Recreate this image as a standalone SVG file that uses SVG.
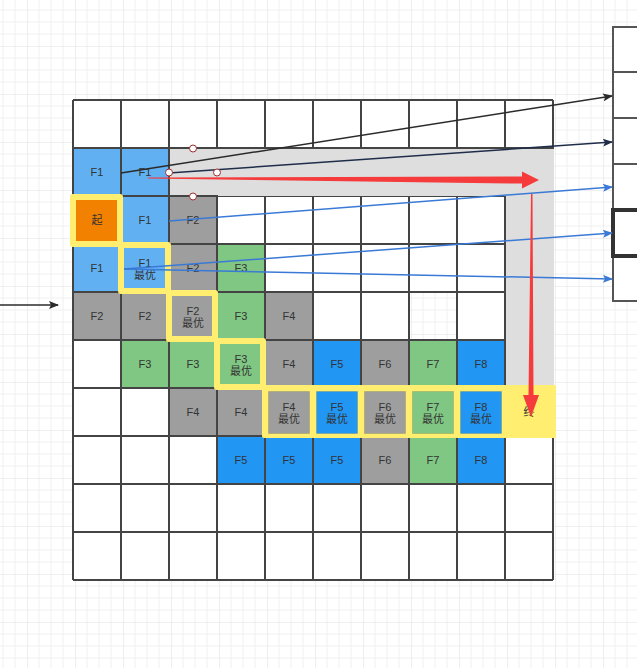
<svg xmlns="http://www.w3.org/2000/svg" width="637" height="668" viewBox="0 0 637 668">
<defs>
<pattern id="bg" x="27" y="46" width="48" height="48" patternUnits="userSpaceOnUse">
<path d="M12 0V48M24 0V48M36 0V48M0 12H48M0 24H48M0 36H48" stroke="#f0f0f0" stroke-width="1" fill="none"/>
<path d="M0 0V48M0 0H48" stroke="#e0e0e0" stroke-width="1" fill="none"/>
</pattern>
<marker id="ad" viewBox="0 0 10 8" refX="9" refY="4" markerWidth="11" markerHeight="8" markerUnits="userSpaceOnUse" orient="auto"><path d="M0 0L10 4L0 8L2 4Z" fill="#2b2b2b"/></marker>
<marker id="an" viewBox="0 0 10 8" refX="9" refY="4" markerWidth="11" markerHeight="8" markerUnits="userSpaceOnUse" orient="auto"><path d="M0 0L10 4L0 8L2 4Z" fill="#1f2d4a"/></marker>
<marker id="ab" viewBox="0 0 10 8" refX="9" refY="4" markerWidth="11" markerHeight="8" markerUnits="userSpaceOnUse" orient="auto"><path d="M0 0L10 4L0 8L2 4Z" fill="#3a7ad6"/></marker>
</defs>
<style>
.c{stroke:#444;stroke-width:2}
.lb{fill:#60b0f2}
.gy{fill:#9e9e9e}
.gr{fill:#80c783}
.bl{fill:#2196f3}
.or{fill:#f38100}
.hl{stroke:#ffee70;stroke-width:6;stroke-linejoin:round}
.in{stroke:rgba(0,0,0,0.12);stroke-width:1}
text{font-family:"Liberation Sans","Noto Sans CJK SC",sans-serif;font-size:11px;fill:#333;text-anchor:middle}
.cn{fill:none;stroke-width:1.5}
.hd{fill:#fff;stroke:#a0302f;stroke-width:1}
</style>
<rect width="637" height="668" fill="#fff"/>
<rect width="637" height="668" fill="url(#bg)"/>

<g id="table">
<path d="M73 100H553V580H73Z M409 292V340H457V292Z" fill="#fff" fill-rule="evenodd"/>
<path d="M73 100V580M121 100V580M169 100V580M217 100V580M265 100V580M313 100V580M361 100V580M409 100V580M457 100V580M505 100V580M553 100V580M73 100H553M73 148H553M73 196H553M73 244H553M73 292H553M73 340H553M73 388H553M73 436H553M73 484H553M73 532H553M73 580H553" stroke="#444" stroke-width="2" fill="none"/>
</g>

<g id="gray-band">
<rect x="170" y="149" width="384" height="47" fill="#dedede"/>
<rect x="506" y="149" width="48" height="239" fill="#dedede"/>
</g>

<g id="r1c0"><rect class="c lb" x="73" y="148" width="48" height="48"/><text x="97" y="176">F1</text></g>
<g id="r1c1"><rect class="c lb" x="121" y="148" width="48" height="48"/><text x="145" y="176">F1</text></g>
<g id="r2c1"><rect class="c lb" x="121" y="196" width="48" height="48"/><text x="145" y="224">F1</text></g>
<g id="r2c2"><rect class="c gy" x="169" y="196" width="48" height="48"/><text x="193" y="224">F2</text></g>
<g id="r3c0"><rect class="c lb" x="73" y="244" width="48" height="48"/><text x="97" y="272">F1</text></g>
<g id="r3c2"><rect class="c gy" x="169" y="244" width="48" height="48"/><text x="193" y="272">F2</text></g>
<g id="r3c3"><rect class="c gr" x="217" y="244" width="48" height="48"/><text x="241" y="272">F3</text></g>
<g id="r4c0"><rect class="c gy" x="73" y="292" width="48" height="48"/><text x="97" y="320">F2</text></g>
<g id="r4c1"><rect class="c gy" x="121" y="292" width="48" height="48"/><text x="145" y="320">F2</text></g>
<g id="r4c3"><rect class="c gr" x="217" y="292" width="48" height="48"/><text x="241" y="320">F3</text></g>
<g id="r4c4"><rect class="c gy" x="265" y="292" width="48" height="48"/><text x="289" y="320">F4</text></g>
<g id="r5c1"><rect class="c gr" x="121" y="340" width="48" height="48"/><text x="145" y="368">F3</text></g>
<g id="r5c2"><rect class="c gr" x="169" y="340" width="48" height="48"/><text x="193" y="368">F3</text></g>
<g id="r5c4"><rect class="c gy" x="265" y="340" width="48" height="48"/><text x="289" y="368">F4</text></g>
<g id="r5c5"><rect class="c bl" x="313" y="340" width="48" height="48"/><text x="337" y="368">F5</text></g>
<g id="r5c6"><rect class="c gy" x="361" y="340" width="48" height="48"/><text x="385" y="368">F6</text></g>
<g id="r5c7"><rect class="c gr" x="409" y="340" width="48" height="48"/><text x="433" y="368">F7</text></g>
<g id="r5c8"><rect class="c bl" x="457" y="340" width="48" height="48"/><text x="481" y="368">F8</text></g>
<g id="r6c2"><rect class="c gy" x="169" y="388" width="48" height="48"/><text x="193" y="416">F4</text></g>
<g id="r6c3"><rect class="c gy" x="217" y="388" width="48" height="48"/><text x="241" y="416">F4</text></g>
<g id="r7c3"><rect class="c bl" x="217" y="436" width="48" height="48"/><text x="241" y="464">F5</text></g>
<g id="r7c4"><rect class="c bl" x="265" y="436" width="48" height="48"/><text x="289" y="464">F5</text></g>
<g id="r7c5"><rect class="c bl" x="313" y="436" width="48" height="48"/><text x="337" y="464">F5</text></g>
<g id="r7c6"><rect class="c gy" x="361" y="436" width="48" height="48"/><text x="385" y="464">F6</text></g>
<g id="r7c7"><rect class="c gr" x="409" y="436" width="48" height="48"/><text x="433" y="464">F7</text></g>
<g id="r7c8"><rect class="c bl" x="457" y="436" width="48" height="48"/><text x="481" y="464">F8</text></g>

<g id="start"><rect class="hl or" x="73" y="197" width="47" height="47"/><text x="97" y="224">起</text></g>
<g id="r3c1"><rect class="hl lb" x="121" y="245" width="47" height="46"/><text x="145" y="266.5">F1</text><text x="145" y="278.5">最优</text></g>
<g id="r4c2"><rect class="hl gy" x="169" y="293" width="46" height="46"/><text x="193" y="314.5">F2</text><text x="193" y="326.5">最优</text></g>
<g id="r5c3"><rect class="hl gr" x="217" y="341" width="46" height="46"/><text x="241" y="362.5">F3</text><text x="241" y="374.5">最优</text></g>

<g id="best-band">
<rect x="262" y="385" width="294" height="53" rx="2" fill="#ffee70"/>
<g id="r6c4"><rect class="in gy" x="268.5" y="391.5" width="41" height="42"/><text x="289" y="410.5">F4</text><text x="289" y="422.5">最优</text></g>
<g id="r6c5"><rect class="in bl" x="316.5" y="391.5" width="41" height="42"/><text x="337" y="410.5">F5</text><text x="337" y="422.5">最优</text></g>
<g id="r6c6"><rect class="in gy" x="364.5" y="391.5" width="41" height="42"/><text x="385" y="410.5">F6</text><text x="385" y="422.5">最优</text></g>
<g id="r6c7"><rect class="in gr" x="412.5" y="391.5" width="41" height="42"/><text x="433" y="410.5">F7</text><text x="433" y="422.5">最优</text></g>
<g id="r6c8"><rect class="in bl" x="460.5" y="391.5" width="41" height="42"/><text x="481" y="410.5">F8</text><text x="481" y="422.5">最优</text></g>
<g id="end"><text x="529" y="416">终</text></g>
</g>

<g id="memory">
<rect x="613" y="27" width="40" height="45" fill="#fff" stroke="#555" stroke-width="2"/>
<rect x="613" y="72" width="40" height="46" fill="#fff" stroke="#555" stroke-width="2"/>
<rect x="613" y="118" width="40" height="46" fill="#fff" stroke="#555" stroke-width="2"/>
<rect x="613" y="164" width="40" height="46" fill="#fff" stroke="#555" stroke-width="2"/>
<rect x="613" y="256" width="40" height="45" fill="#fff" stroke="#555" stroke-width="2"/>
<rect x="613" y="210" width="40" height="46" fill="#fff" stroke="#333" stroke-width="4"/>
</g>

<g id="connectors">
<path class="cn" d="M0 305H58" stroke="#2b2b2b" marker-end="url(#ad)"/>
<path class="cn" d="M121 173L612 96" stroke="#2b2b2b" marker-end="url(#ad)"/>
<path class="cn" d="M169 173L612 142" stroke="#1f2d4a" marker-end="url(#an)"/>
<path class="cn" d="M169 221L612 187" stroke="#3a7ad6" marker-end="url(#ab)"/>
<path class="cn" d="M124 269L612 233" stroke="#3a7ad6" marker-end="url(#ab)"/>
<path class="cn" d="M124 269L612 279" stroke="#3a7ad6" marker-end="url(#ab)"/>
<polygon points="148,177.6 522,176.4 522,171.5 539,180 522,188.5 522,183.6 148,178.6" fill="#f53b3b"/>
<polygon points="531,194 532.5,194 533.5,395 539,395 531,417 523,395 528.5,395" fill="#f53b3b"/>
</g>

<g id="handles">
<circle class="hd" cx="193" cy="148.5" r="3.5"/>
<circle class="hd" cx="169" cy="172.5" r="3.5"/>
<circle class="hd" cx="217" cy="172.5" r="3.5"/>
<circle class="hd" cx="193" cy="196.5" r="3.5"/>
</g>
</svg>
